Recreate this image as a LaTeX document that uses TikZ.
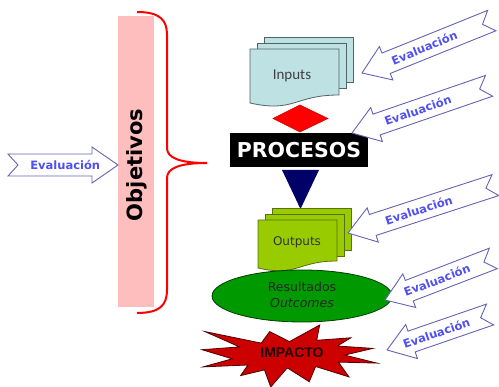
\documentclass[tikz,border=0pt]{standalone}
\usepackage{fontspec}
\setmainfont{DejaVu Sans}
\newfontfamily\libsans{Liberation Sans}
\newfontfamily\carl{Carlito}
\definecolor{inputfill}{RGB}{190,225,228}
\definecolor{inputline}{RGB}{80,100,100}
\definecolor{outfill}{RGB}{153,204,0}
\definecolor{outline}{RGB}{90,110,20}
\definecolor{ellfill}{RGB}{0,153,0}
\definecolor{ellline}{RGB}{0,60,0}
\definecolor{starfill}{RGB}{204,0,0}
\definecolor{starline}{RGB}{80,0,0}
\definecolor{navy}{RGB}{0,0,102}
\definecolor{pinkbar}{RGB}{255,190,190}
\definecolor{arrowline}{RGB}{100,100,180}
\definecolor{evalblue}{RGB}{80,80,240}
\newcommand{\evalarr}[6]{%
  \begin{scope}[shift={(#2,#3)}, rotate=#4]
    \draw[evalarrow] (0,0) -- (26,-18) -- (26,-11) -- (#5,-11) -- (#5-10,0) -- (#5,11) -- (26,11) -- (26,18) -- cycle;
    \node[evaltext, rotate=#6] (#1) at (0.48*#5,0) {Evaluación};
  \end{scope}}
\begin{document}
\begin{tikzpicture}[x=1pt,y=-1pt,
  inputdoc/.style={fill=inputfill, draw=inputline, line width=0.8pt},
  outputdoc/.style={fill=outfill, draw=outline, line width=0.8pt},
  evalarrow/.style={fill=white, draw=arrowline, line width=0.9pt, line join=miter},
  evaltext/.style={text=evalblue, font=\bfseries\fontsize{11.5}{13}\selectfont, inner sep=0pt}]
\useasboundingbox (0,0) rectangle (499,387);
% pink bar and brace
\fill[pinkbar] (118,16) rectangle (154,307);
\node[rotate=90, font=\bfseries\fontsize{21}{24}\selectfont, inner sep=0pt] (obj) at (137,165) {Objetivos};
\draw[red, line width=2pt] (137,12) .. controls (160,12) and (167,20) .. (167,35) -- (167,148)
  .. controls (167,158) and (180,163) .. (207,163) .. controls (180,163) and (167,168) .. (167,178)
  -- (167,290) .. controls (167,305) and (160,313) .. (137,313);
% Inputs multi-document
\draw[inputdoc] (264,37) rectangle (353,82);
\draw[inputdoc] (257,43) rectangle (346,88);
\draw[inputdoc] (250,49) -- (339,49) -- (339,95) .. controls (294.5,95) and (294.5,113) .. (250,103) -- cycle;
\node[font=\carl\fontsize{15}{17}\selectfont, text=black!75] (inputs) at (292,76) {Inputs};
% diamond
\draw[fill=red, draw=red!80!black, line width=0.5pt] (300,105) -- (328,118.5) -- (300,132) -- (273,118.5) -- cycle;
% PROCESOS
\node[fill=black, minimum width=138pt, minimum height=34pt, inner sep=0pt, text=white,
  font=\bfseries\fontsize{20.5}{22}\selectfont] (proc) at (299,150) {PROCESOS};
% triangle
\fill[navy] (282,170) -- (319,170) -- (300.5,209) -- cycle;
% Outputs multi-document
\draw[outputdoc] (272,208) rectangle (351,250);
\draw[outputdoc] (265,214) rectangle (344,256);
\draw[outputdoc] (258,220) -- (337,220) -- (337,261) .. controls (297.5,261) and (297.5,277) .. (258,268) -- cycle;
\node[font=\fontsize{12}{14}\selectfont, text=black!80] (outputs) at (297,242) {Outputs};
% Resultados ellipse
\draw[fill=ellfill, draw=ellline, line width=0.8pt] (302,296) ellipse [x radius=90, y radius=26];
\node[font=\fontsize{12.5}{16}\selectfont, text=black!85, align=center, inner sep=0pt] (res) at (302,295)
  {Resultados\\\itshape Outcomes};
% IMPACTO explosion
\draw[fill=starfill, draw=starline, line width=0.8pt, line join=miter]
  (289.5,341.6) -- (319.7,325) -- (316.7,340.3) -- (350.9,337.8) -- (337.3,346) -- (372.9,348.4)
  -- (344.6,355.1) -- (377,363.1) -- (338.4,362.1) -- (349,376.9) -- (315.6,366.5) -- (309.3,381.7)
  -- (287.3,367.9) -- (270.7,387) -- (264.5,369.9) -- (240.6,375.6) -- (247.9,365) -- (203.1,366.9)
  -- (232.2,358.8) -- (202,349.7) -- (239.5,346.9) -- (205,331.6) -- (261.2,343.1) -- (269.7,331.6) -- cycle;
\node[font=\libsans\bfseries\fontsize{14}{16}\selectfont, text=black!85!red] (imp) at (292,353) {IMPACTO};
% Evaluacion arrows
\evalarr{ev0}{118}{165}{180}{110}{0}
\evalarr{ev1}{362}{73}{22}{140}{22}
\evalarr{ev2}{352}{133}{19}{145}{19}
\evalarr{ev3}{348}{233}{18}{155}{18}
\evalarr{ev4}{385}{300}{21}{116}{21}
\evalarr{ev5}{387}{350}{19}{109}{19}
\end{tikzpicture}
\end{document}
